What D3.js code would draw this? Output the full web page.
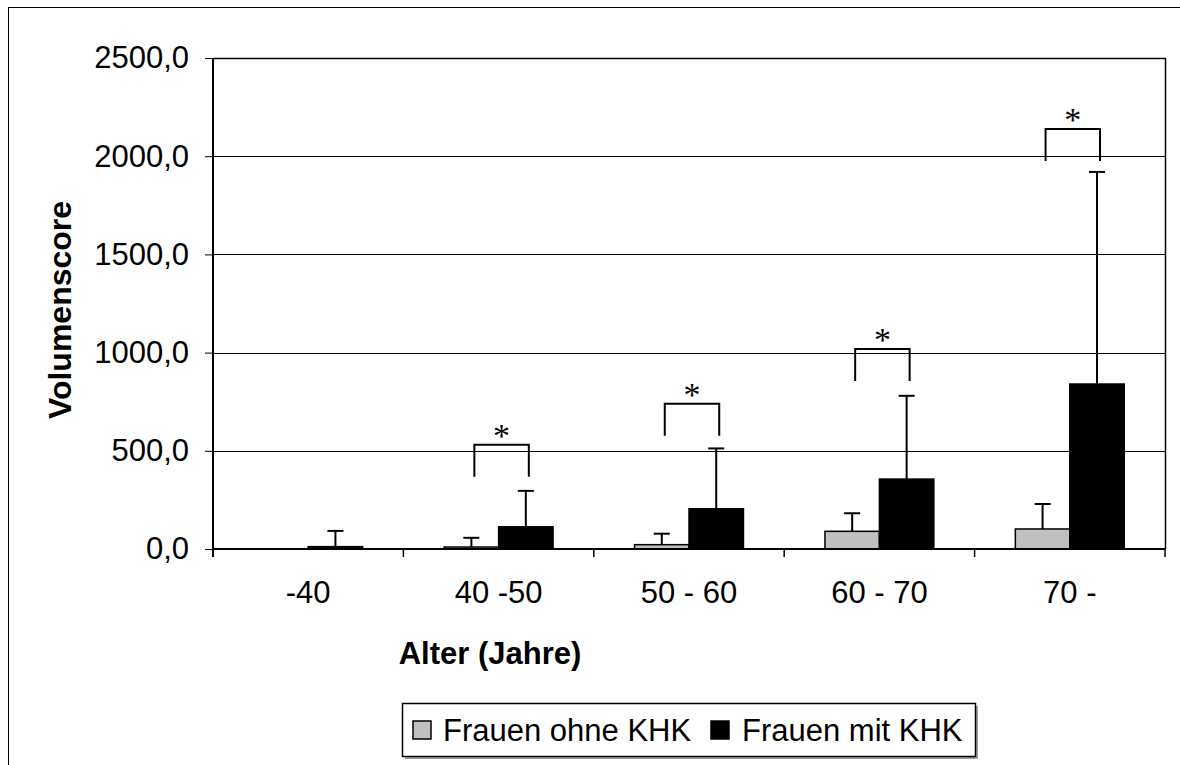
<!DOCTYPE html>
<html>
<head>
<meta charset="utf-8">
<script src="https://cdn.jsdelivr.net/npm/d3@7"></script>
<style>
  body { margin: 0; background: #fff; }
  text { font-family: "Liberation Sans", Arial, sans-serif; }
</style>
</head>
<body>
<script>
var categories = ["-40", "40 -50", "50 - 60", "60 - 70", "70 -"];
var ohneKHK = [1, 10, 22, 90, 102];
var ohneKHKErr = [null, 57, 78, 182, 229];
var mitKHK = [12, 113, 205, 356, 840];
var mitKHKErr = [92, 296, 512, 780, 1920];
var sigLevel = [null, 368, 577, 855, 1975];
var yTicks = [0, 500, 1000, 1500, 2000, 2500];
var seriesNames = ["Frauen ohne KHK", "Frauen mit KHK"];
var seriesColors = ["#c0c0c0", "#000000"];

var W = 1180, H = 765;
var plot = {left: 213, right: 1165, top: 58, bottom: 549};

var svg = d3.select("body").append("svg")
  .attr("width", W)
  .attr("height", H);

// outer chart frame
svg.append("rect")
  .attr("x", 8.5).attr("y", 7.5)
  .attr("width", 1250).attr("height", 800)
  .attr("fill", "#fff").attr("stroke", "#000").attr("stroke-width", 1);

var x = d3.scaleBand().domain(categories).range([plot.left, plot.right]);
var y = d3.scaleLinear().domain([0, 2500]).range([plot.bottom, plot.top]);
var barW = x.bandwidth() * 0.286;
var gap = (x.bandwidth() - 2 * barW) / 2;

// gridlines
svg.append("g").selectAll("line").data(yTicks.slice(1, -1)).enter().append("line")
  .attr("x1", plot.left).attr("x2", plot.right)
  .attr("y1", function (d) { return Math.round(y(d)) + 0.5; })
  .attr("y2", function (d) { return Math.round(y(d)) + 0.5; })
  .attr("stroke", "#000").attr("stroke-width", 1);

// plot area border top/right
svg.append("path")
  .attr("d", "M" + plot.left + "," + (plot.top + 0.5) + "H" + (plot.right + 0.5) + "V" + plot.bottom)
  .attr("fill", "none").attr("stroke", "#000").attr("stroke-width", 1.5);

var data = categories.map(function (c, i) {
  return [
    {cat: c, s: 0, v: ohneKHK[i], err: ohneKHKErr[i]},
    {cat: c, s: 1, v: mitKHK[i], err: mitKHKErr[i]}
  ];
});
var flat = [].concat.apply([], data);

function barX(d) { return x(d.cat) + gap + d.s * barW; }

// error bars (upper only)
var eb = svg.append("g").selectAll("g").data(flat.filter(function (d) { return d.err != null; }))
  .enter().append("g");
eb.append("line")
  .attr("x1", function (d) { return barX(d) + barW / 2; })
  .attr("x2", function (d) { return barX(d) + barW / 2; })
  .attr("y1", function (d) { return y(d.v); })
  .attr("y2", function (d) { return y(d.err); })
  .attr("stroke", "#000").attr("stroke-width", 2);
eb.append("line")
  .attr("x1", function (d) { return barX(d) + barW / 2 - 8; })
  .attr("x2", function (d) { return barX(d) + barW / 2 + 8; })
  .attr("y1", function (d) { return y(d.err); })
  .attr("y2", function (d) { return y(d.err); })
  .attr("stroke", "#000").attr("stroke-width", 2);

// bars
svg.append("g").selectAll("rect").data(flat).enter().append("rect")
  .attr("x", barX)
  .attr("y", function (d) { return y(d.v); })
  .attr("width", barW)
  .attr("height", function (d) { return y(0) - y(d.v); })
  .attr("fill", function (d) { return seriesColors[d.s]; })
  .attr("stroke", "#000").attr("stroke-width", 1.5);

// significance brackets
var sig = categories.map(function (c, i) { return {cat: c, lvl: sigLevel[i]}; })
  .filter(function (d) { return d.lvl != null; });
var sg = svg.append("g").selectAll("g").data(sig).enter().append("g");
sg.append("path")
  .attr("d", function (d) {
    var x1 = x(d.cat) + gap + barW / 2 + 3, x2 = x1 + barW, yb = y(d.lvl), yt = yb - 32;
    return "M" + x1 + "," + yb + "V" + yt + "H" + x2 + "V" + yb;
  })
  .attr("fill", "none").attr("stroke", "#000").attr("stroke-width", 2);
sg.append("text")
  .attr("x", function (d) { return x(d.cat) + gap + barW + 3; })
  .attr("y", function (d) { return y(d.lvl) - 32 + 2; })
  .attr("text-anchor", "middle")
  .style("font-size", "34px")
  .style("font-family", "'Liberation Serif', serif")
  .text("*");

// axes
var yAxis = d3.axisLeft(y).tickValues(yTicks).tickSize(8).tickPadding(16)
  .tickFormat(function (d) { return d3.format(".1f")(d).replace(".", ","); });
var gy = svg.append("g").attr("transform", "translate(" + plot.left + ",0)").call(yAxis);
gy.select(".domain").remove();
gy.selectAll(".tick line").attr("stroke", "#000").attr("stroke-width", 1);
gy.selectAll("text").style("font-size", "31px").attr("fill", "#000");

var gx = svg.append("g").attr("transform", "translate(0," + plot.bottom + ")")
  .call(d3.axisBottom(x).tickSize(0).tickPadding(32));
gx.select(".domain").remove();
gx.selectAll("text").style("font-size", "31px").attr("fill", "#000");
// category boundary ticks
svg.append("g").selectAll("line").data(d3.range(categories.length + 1)).enter().append("line")
  .attr("x1", function (i) { return plot.left + i * x.step(); })
  .attr("x2", function (i) { return plot.left + i * x.step(); })
  .attr("y1", plot.bottom).attr("y2", plot.bottom + 8)
  .attr("stroke", "#000").attr("stroke-width", 1.5);

// axis lines
svg.append("line").attr("x1", plot.left).attr("x2", plot.left)
  .attr("y1", plot.top).attr("y2", plot.bottom + 8)
  .attr("stroke", "#000").attr("stroke-width", 2);
svg.append("line").attr("x1", plot.left).attr("x2", plot.right)
  .attr("y1", plot.bottom).attr("y2", plot.bottom)
  .attr("stroke", "#000").attr("stroke-width", 2);

// axis titles
svg.append("text")
  .attr("x", 490).attr("y", 664)
  .attr("text-anchor", "middle")
  .style("font-size", "31px").style("font-weight", "bold")
  .text("Alter (Jahre)");
svg.append("text")
  .attr("transform", "translate(71,310) rotate(-90)")
  .attr("text-anchor", "middle")
  .style("font-size", "32px").style("font-weight", "bold")
  .text("Volumenscore");

// legend
var lg = svg.append("g");
lg.append("path").attr("d", "M405,758H977V706")
  .attr("fill", "none").attr("stroke", "#808080").attr("stroke-width", 1.5);
lg.append("rect").attr("x", 402.5).attr("y", 703.5).attr("width", 573).attr("height", 53)
  .attr("fill", "#fff").attr("stroke", "#000").attr("stroke-width", 1.5);
var items = [{x: 413, tx: 443}, {x: 711, tx: 742}];
lg.selectAll("g").data(seriesNames).enter().append("g").each(function (d, i) {
  var g = d3.select(this);
  g.append("rect").attr("x", items[i].x).attr("y", 721).attr("width", 18).attr("height", 18)
    .attr("fill", seriesColors[i]).attr("stroke", "#000").attr("stroke-width", 1.5);
  g.append("text").attr("x", items[i].tx).attr("y", 741)
    .style("font-size", "31px").text(d);
});
</script>
</body>
</html>
